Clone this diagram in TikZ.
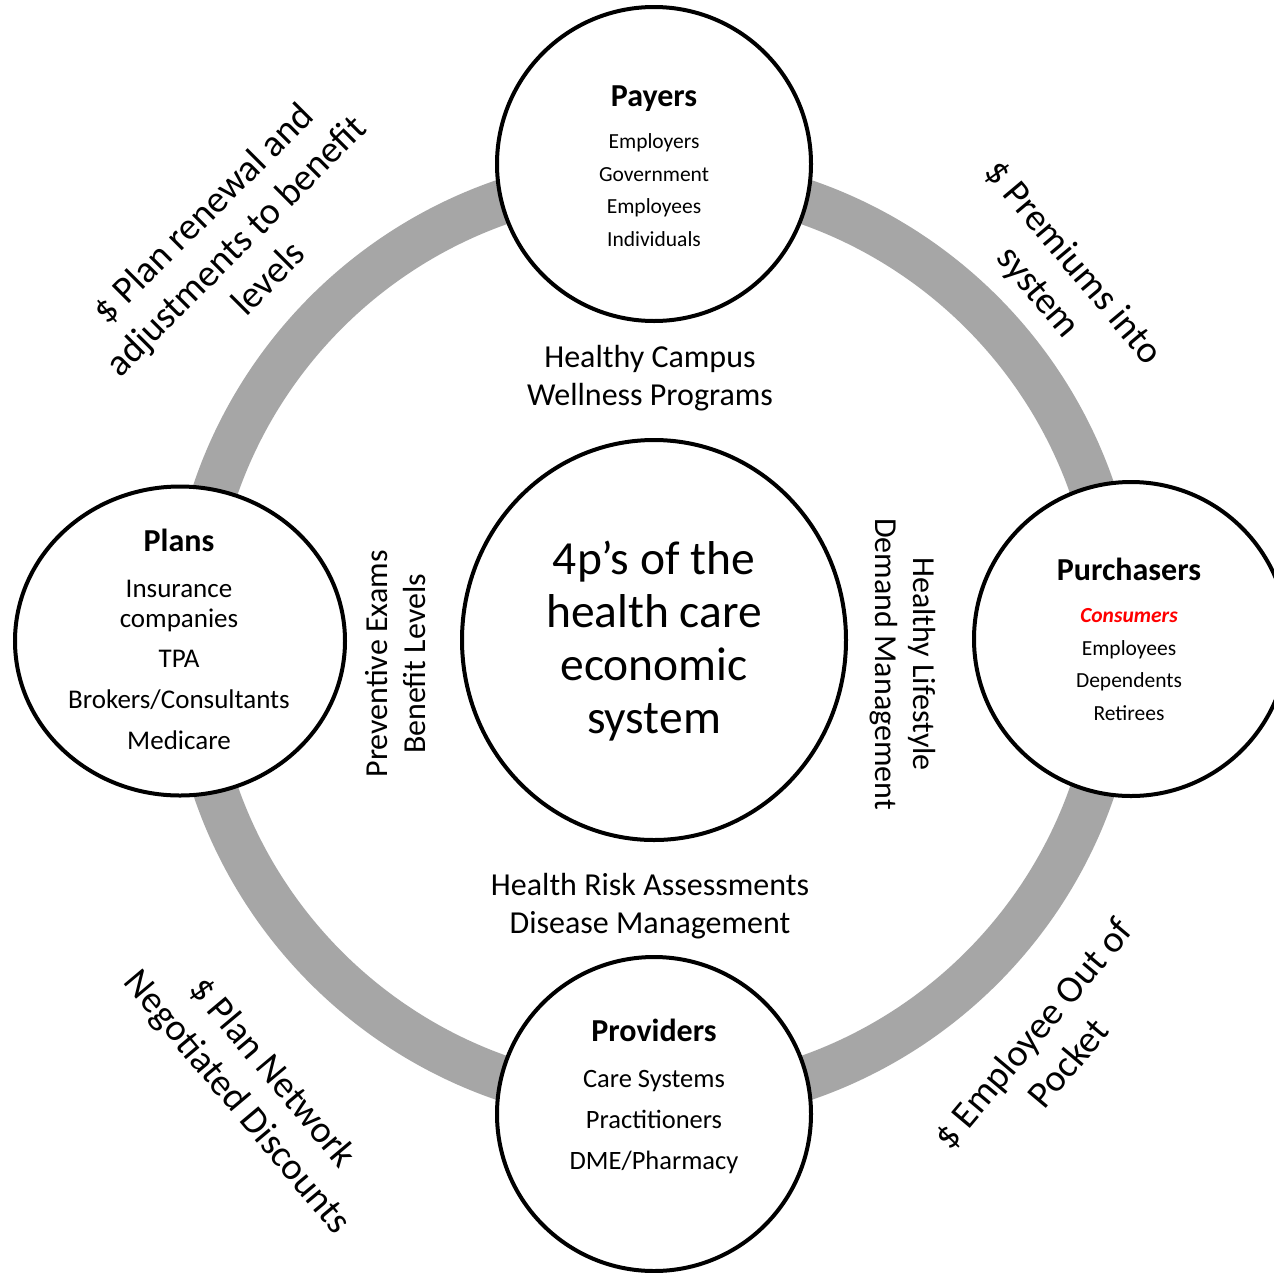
\documentclass[tikz,border=0pt]{standalone}
\usepackage{fontspec}
\setmainfont{Carlito}
\usetikzlibrary{shapes.geometric}
\definecolor{ringgray}{RGB}{166,166,166}
\definecolor{hired}{RGB}{255,0,0}
\newcommand{\fs}[2]{\fontsize{#1pt}{#2pt}\selectfont}
\tikzset{
  pcircle/.style={ellipse, draw=black, line width=4pt, fill=white, inner sep=0pt},
  ptext/.style={align=center, inner sep=0pt},
  difont/.style={ptext, font=\fs{38}{46}},
  midfont/.style={ptext, font=\fs{32}{38}},
}
\begin{document}
\begin{tikzpicture}[x=1pt,y=-1pt]
\useasboundingbox (0,0) rectangle (1274,1272);
\fill[white] (0,0) rectangle (1274,1272);
% ring
\fill[ringgray, even odd rule] (654,640) circle[radius=486pt] (654,640) circle[radius=441pt];
% circles
\node[pcircle, minimum width=314pt, minimum height=314pt] (payers) at (654,164) {};
\node[pcircle, minimum width=330pt, minimum height=309pt] (plans) at (180,641) {};
\node[pcircle, minimum width=314pt, minimum height=314pt] (purch) at (1131,639) {};
\node[pcircle, minimum width=314pt, minimum height=314pt] (prov) at (654,1114) {};
\node[pcircle, minimum width=384pt, minimum height=400pt] (core) at (654,640) {};
% circle texts
\node[ptext, font=\fs{21.5}{32.5}] (payersT) at (654,166)
  {{\fs{32}{32.5}\bfseries Payers}\\[9.5pt]Employers\\Government\\Employees\\Individuals};
\node[ptext, font=\fs{21.5}{32.5}] (purchT) at (1129,639)
  {{\fs{32}{32.5}\bfseries Purchasers}\\[10pt]{\color{hired}\bfseries\itshape Consumers}\\Employees\\Dependents\\Retirees};
\node[ptext, font=\fs{27}{30}] (plansT) at (179,639)
  {{\fs{32}{30}\bfseries Plans}\\[16pt]Insurance\\companies\\[10pt]TPA\\[11pt]Brokers/Consultants\\[11pt]Medicare};
\node[ptext, font=\fs{26.5}{41}] (provT) at (654,1096)
  {{\fs{32}{41}\bfseries Providers}\\[5pt]Care Systems\\Practitioners\\DME/Pharmacy};
\node[ptext, font=\fs{47.5}{53}] (coreT) at (654,641)
  {4p’s of the\\health care\\economic\\system};
% inner labels
\node[midfont] (topmid) at (650,378) {Healthy Campus\\Wellness Programs};
\node[midfont] (botmid) at (650,906) {Health Risk Assessments\\Disease Management};
\node[midfont, rotate=90] (leftmid) at (396,664) {Preventive Exams\\Benefit Levels};
\node[midfont, rotate=-90] (rightmid) at (903,664) {Healthy Lifestyle\\Demand Management};
% outer diagonal labels
\node[difont, rotate=45] (tl) at (235,245) {\$ Plan renewal and\\adjustments to benefit\\levels};
\node[difont, rotate=-50] (tr) at (1055,278) {\$ Premiums into\\system};
\node[difont, rotate=-50] (bl) at (254,1088) {\$ Plan Network\\Negotiated Discounts};
\node[difont, rotate=50] (br) at (1050,1048) {\$ Employee Out of\\Pocket};
\end{tikzpicture}
\end{document}
